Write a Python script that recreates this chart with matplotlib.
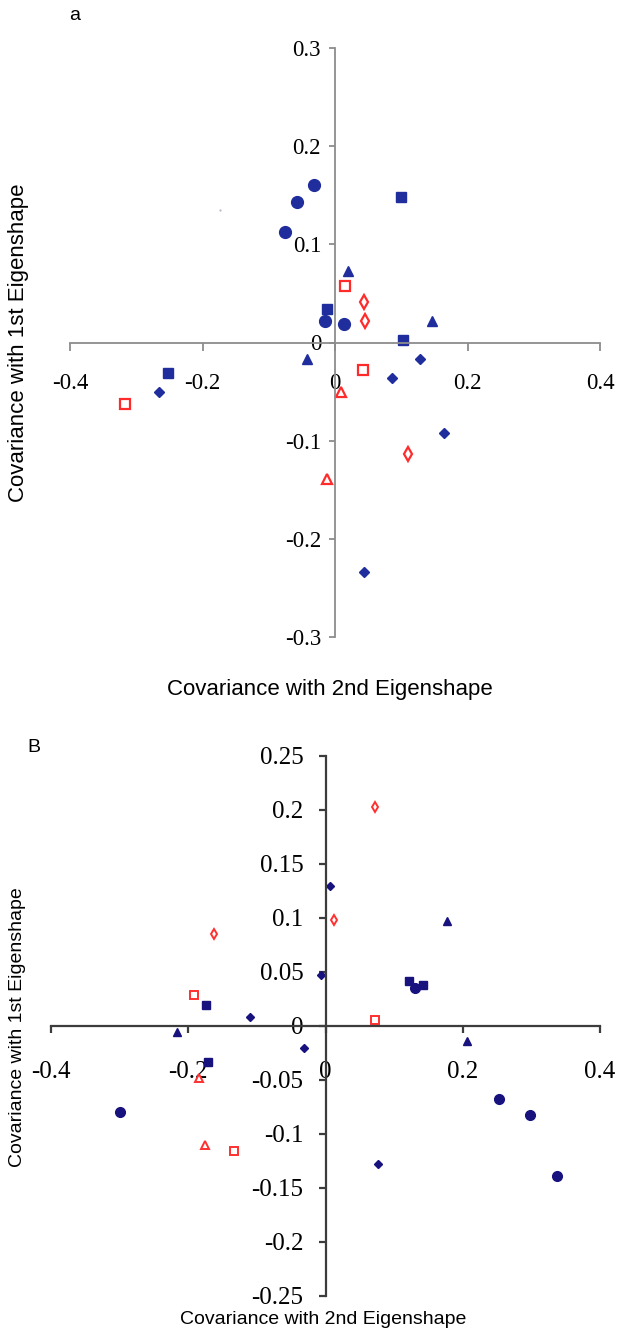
import matplotlib
matplotlib.use("Agg")
import matplotlib.pyplot as plt
from matplotlib.ticker import FuncFormatter

# ---- panel a data (x = cov. with 2nd eigenshape, y = cov. with 1st) ----
a_circ_x = [-0.032, -0.058, -0.075, -0.015, 0.013]
a_circ_y = [0.160, 0.143, 0.1125, 0.022, 0.019]
a_sq_x = [0.100, -0.012, 0.102, -0.252]
a_sq_y = [0.148, 0.034, 0.003, -0.031]
a_tri_x = [0.020, 0.146, -0.042]
a_tri_y = [0.073, 0.022, -0.017]
a_dia_x = [0.129, 0.086, -0.265, 0.164, 0.044]
a_dia_y = [-0.017, -0.0365, -0.050, -0.0925, -0.234]
a_osq_x = [0.015, 0.042, -0.317]
a_osq_y = [0.057, -0.028, -0.0626]
a_odia_x = [0.044, 0.046, 0.110]
a_odia_y = [0.041, 0.022, -0.113]
a_otri_x = [0.009, -0.012]
a_otri_y = [-0.050, -0.139]
a_dot_x = [-0.173]
a_dot_y = [0.135]

# ---- panel B data ----
b_circ_x = [0.130, -0.300, 0.253, 0.298, 0.337]
b_circ_y = [0.035, -0.080, -0.068, -0.082, -0.139]
b_sq_x = [0.121, 0.142, -0.174, -0.171]
b_sq_y = [0.042, 0.038, 0.019, -0.0335]
b_tri_x = [0.177, -0.217, 0.206]
b_tri_y = [0.097, -0.0057, -0.014]
b_dia_x = [0.007, -0.006, -0.110, -0.032, 0.076]
b_dia_y = [0.130, 0.047, 0.008, -0.020, -0.128]
b_osq_x = [-0.192, 0.072, -0.133]
b_osq_y = [0.029, 0.006, -0.116]
b_odia_x = [0.072, 0.013, -0.162]
b_odia_y = [0.203, 0.098, 0.085]
b_otri_x = [-0.184, -0.176]
b_otri_y = [-0.048, -0.110]

a_xticks = [-0.4, -0.2, 0, 0.2, 0.4]
a_yticks = [-0.3, -0.2, -0.1, 0, 0.1, 0.2, 0.3]
b_xticks = [-0.4, -0.2, 0, 0.2, 0.4]
b_yticks = [-0.25, -0.2, -0.15, -0.1, -0.05, 0, 0.05, 0.1, 0.15, 0.2, 0.25]

W, H = 619, 1333
fig = plt.figure(figsize=(W / 100, H / 100), dpi=100)


def fmt(v, pos):
    return "%g" % round(v, 2)


def estilo_ejes(ax, color, lw, fs, xpad, ypad, xlen, ylen):
    for s in ["top", "right"]:
        ax.spines[s].set_visible(False)
    ax.spines["left"].set_position(("data", 0))
    ax.spines["bottom"].set_position(("data", 0))
    for s in ["left", "bottom"]:
        ax.spines[s].set_color(color)
        ax.spines[s].set_linewidth(lw)
    ax.tick_params(axis="x", direction="out", length=xlen, width=lw, color=color, pad=xpad)
    ax.tick_params(axis="y", direction="out", length=ylen, width=lw, color=color, pad=ypad)
    for lab in ax.get_xticklabels() + ax.get_yticklabels():
        lab.set_fontfamily("Liberation Serif")
        lab.set_fontsize(fs)
    ax.xaxis.set_major_formatter(FuncFormatter(fmt))
    ax.yaxis.set_major_formatter(FuncFormatter(fmt))
    ax.patch.set_alpha(0)


# ---------------- panel a ----------------
ax1 = fig.add_axes([70 / W, 1 - 637.3 / H, 530 / W, 589.6 / H])
azul = "#1f2e9c"
rojo = "#ff2b2b"
ax1.plot(a_circ_x, a_circ_y, "o", color=azul, ms=8.5, mec=azul)
ax1.plot(a_sq_x, a_sq_y, "s", color=azul, ms=7.5, mec=azul)
ax1.plot(a_tri_x, a_tri_y, "^", color=azul, ms=7, mec=azul)
ax1.plot(a_dia_x, a_dia_y, "D", color=azul, ms=5.5, mec=azul)
ax1.plot(a_osq_x, a_osq_y, "s", mfc="white", mec=rojo, mew=1.6, ms=6.5)
ax1.plot(a_odia_x, a_odia_y, "d", mfc="white", mec=rojo, mew=1.6, ms=7)
ax1.plot(a_otri_x, a_otri_y, "^", mfc="white", mec=rojo, mew=1.6, ms=7)
ax1.plot(a_dot_x, a_dot_y, "o", color="#b8b8c8", ms=1.6, mew=0)
ax1.set_xlim(-0.4, 0.4)
ax1.set_ylim(-0.3, 0.3)
ax1.set_xticks(a_xticks)
ax1.set_yticks(a_yticks)
estilo_ejes(ax1, "#8c8c8c", 1.3, 16.5, 16, 6, 6, 4)

fig.text(75 / W, 1 - 16 / H, "a", fontsize=14, family="Liberation Sans",
         ha="center", va="center")
fig.text(330 / W, 1 - 690 / H, "Covariance with 2nd Eigenshape", fontsize=16,
         family="Liberation Sans", ha="center", va="center")
fig.text(19 / W, 1 - 343 / H, "Covariance with 1st Eigenshape", fontsize=16,
         family="Liberation Sans", ha="center", va="center", rotation=90)

# ---------------- panel B ----------------
ax2 = fig.add_axes([51 / W, 1 - 1296 / H, 549 / W, 540 / H])
azul2 = "#17127e"
rojo2 = "#ff3030"
ax2.plot(b_circ_x, b_circ_y, "o", color=azul2, ms=7, mec=azul2)
ax2.plot(b_sq_x, b_sq_y, "s", color=azul2, ms=6, mec=azul2)
ax2.plot(b_tri_x, b_tri_y, "^", color=azul2, ms=6, mec=azul2)
ax2.plot(b_dia_x, b_dia_y, "D", color=azul2, ms=4.2, mec=azul2)
ax2.plot(b_osq_x, b_osq_y, "s", mfc="white", mec=rojo2, mew=1.4, ms=5.5)
ax2.plot(b_odia_x, b_odia_y, "d", mfc="white", mec=rojo2, mew=1.4, ms=5.5)
ax2.plot(b_otri_x, b_otri_y, "^", mfc="white", mec=rojo2, mew=1.4, ms=5.5)
ax2.set_xlim(-0.4, 0.4)
ax2.set_ylim(-0.25, 0.25)
ax2.set_xticks(b_xticks)
ax2.set_yticks(b_yticks)
estilo_ejes(ax2, "#3c3c3c", 1.6, 18, 20, 11, 5, 5)

fig.text(34 / W, 1 - 748 / H, "B", fontsize=14, family="Liberation Sans",
         ha="center", va="center")
fig.text(323 / W, 1 - 1320 / H, "Covariance with 2nd Eigenshape", fontsize=14,
         family="Liberation Sans", ha="center", va="center")
fig.text(18 / W, 1 - 1027 / H, "Covariance with 1st Eigenshape", fontsize=14,
         family="Liberation Sans", ha="center", va="center", rotation=90)

fig.savefig("out.png", dpi=100)
